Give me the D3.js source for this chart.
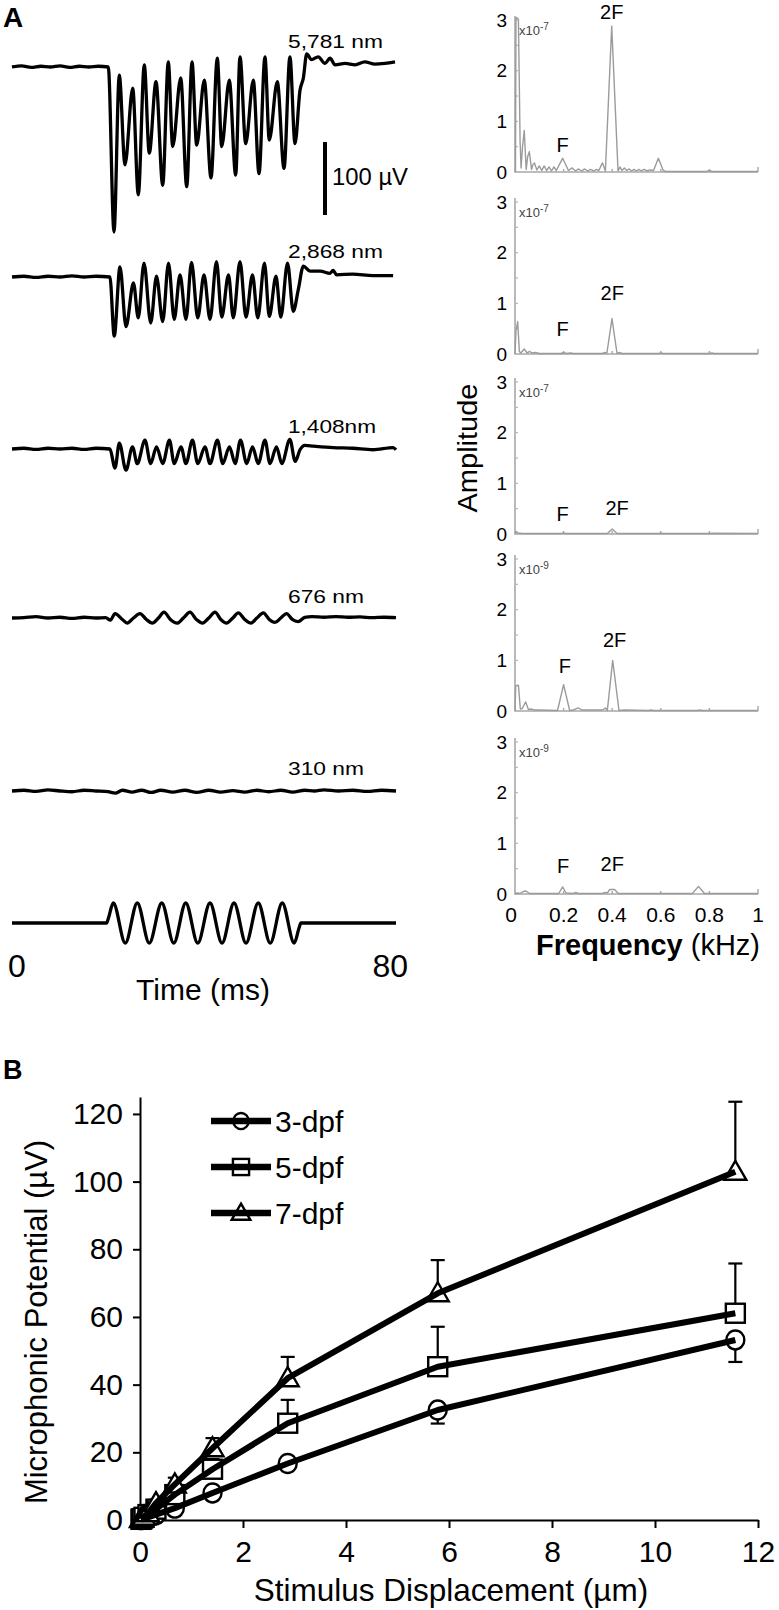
<!DOCTYPE html>
<html><head><meta charset="utf-8">
<script src="https://cdn.jsdelivr.net/npm/d3@7"></script>
<style>
body{margin:0;background:#fff}
svg{display:block}
text{font-family:"Liberation Sans",Arial,Helvetica,sans-serif;fill:#000}
</style></head><body>
<script>
// ---------------- DATA ----------------
// Panel A, left: recordings [time ms, potential µV]
const traceLabels = ["5,781 nm","2,868 nm","1,408nm","676 nm","310 nm"];
const trace5781 = [[0,0],[2,1.5],[4,-0.5],[6,1],[8,0],[10,1.5],[12,-0.5],[14,1],[16,0],[18,1],[20.06,0],
 [21.25,-226],[22.35,-11],[23.54,-134],[25.15,-29],[26.31,-175],[27.56,3],[28.6,-118],[30.0,-20],[31.4,-162],[32.56,7],
 [33.48,-109],[35.15,-15],[36.4,-164],[37.5,7],[38.48,-107],[40.06,-18],[41.46,-152],[42.77,12],[43.69,-109],[45.27,-18],
 [46.6,-148],[47.5,14],[48.69,-105],[50.27,-18],[51.46,-146],[52.7,14],[53.6,-100],[55.27,-20],[56.67,-139],[57.9,14],
 [58.96,-105],[60.0,-32],[60.7,-15],[61.4,18],[62.4,10],[63.8,14],[65.2,5],[66.25,12],[67.3,3],[69.4,5],[71.5,3],
 [73.5,7],[75.6,4],[77.7,5],[79.8,7]];
const trace2868 = [[0,0],[2.5,1],[5,-0.5],[7.5,1],[10,0],[12.5,1.5],[15,0],[17.5,1],[20.4,0],
 [21.3,-81],[22.5,14],[23.75,-68],[25.3,-8],[26.3,-56],[27.5,19],[28.9,-63],[30.1,1],[31.4,-61],[32.6,19],[33.8,-58],
 [35.0,3],[36.25,-58],[37.4,20],[38.7,-56],[40.0,3],[41.25,-58],[42.6,21],[43.7,-55],[45.1,3],[46.1,-56],[47.5,21],
 [48.75,-55],[50.1,3],[51.2,-56],[52.6,19],[53.6,-54],[55.0,1],[56.0,-55],[57.4,19],[58.6,-47],[59.65,-17],[60.7,15],
 [62.1,8],[64.2,8],[66.25,5],[66.9,9],[67.6,3],[71,4],[75.2,2],[79.4,2]];
const trace1408 = [[0,0],[2.5,1],[5,-0.5],[7.5,1],[10,0],[12.5,1],[15,-0.5],[17.5,1],[20.4,0],
 [21.46,-26],[22.36,8],[23.75,-29],[25.1,3],[26.1,-20],[27.7,12],[28.9,-20],[30.1,3],[31.4,-20],[32.8,12],[33.8,-20],
 [35.2,3],[36.25,-20],[37.6,12],[38.7,-20],[40.2,3],[41.25,-20],[42.8,12],[43.9,-20],[45.3,3],[46.5,-20],[47.6,12],
 [48.9,-20],[50.1,3],[51.3,-20],[52.7,12],[53.75,-20],[55.1,3],[56.2,-20],[57.9,13],[59.0,-17],[60.0,-1],[61.0,5],
 [62.8,4],[66.9,2],[71,1],[75.2,-1],[79.4,2],[80,-1]];
const trace676 = [[0,0],[2.5,0.5],[5,2],[7.5,0],[10,1],[12.5,-0.5],[15,1],[17.5,0],[19.5,0.5],[20.5,-3],[21.46,6],
 [23,-2],[24.0,-7],[25.3,0],[26.67,6],[28,-2],[29.2,-7],[30.5,0],[31.67,8],[33,-2],[34.4,-7],[35.7,0],[37.08,8],
 [38.4,-2],[39.7,-7],[41,0],[42.3,8],[43.5,-2],[44.7,-7],[46,0],[47.15,7],[48.5,-2],[49.8,-7],[51,0],[52.36,7],
 [53.6,-2],[54.8,-6],[56,0],[57.2,6],[58.4,-2],[59.6,-5],[61,1],[62.5,2],[65,1],[67.5,2],[70,1],[72.5,1.5],[75,0.5],
 [77.5,1],[80,0.5]];
const trace310 = [[0,0],[2.5,1],[5,-0.5],[7.5,1.5],[10,0],[12.5,-1],[15,1],[17.5,0],[20,-1],[21.5,-3],[23,1],[25,-1.5],
 [27,1],[29,-2],[31,1],[33.5,-1.5],[36,1],[38.5,-2],[41,1],[43.5,-1.5],[46,0.5],[48.5,-1.5],[51,1],[53.5,-1],[56,1],
 [58.5,-1.5],[61,1],[63,0],[65,1.5],[68,0],[71,1],[74,-0.5],[77,1],[80,0]];
const traces = [trace5781, trace2868, trace1408, trace676, trace310];
// stimulus waveform [time ms, normalised displacement]
const stimulus = [[0,0],[19.7,0],[20.1,0.25],[21.1,1],[23.6,-1],[26.1,1],[28.6,-1],[31.2,1],[33.7,-1],[36.2,1],[38.7,-1],
 [41.25,1],[43.75,-1],[46.25,1],[48.75,-1],[51.3,1],[53.8,-1],[56.3,1],[58.8,-1],[59.8,-0.25],[60.2,0],[80,0]];
const timeTickLabels = ["0","80"];
const scaleBarValue = 100; // µV

// Panel A, right: amplitude spectra [frequency kHz, amplitude]
const specExponents = ["-7","-7","-7","-9","-9"];
const spec1 = [[0,0],[0.002,0.02],[0.004,3.05],[0.014,3.02],[0.021,0.6],[0.025,0.08],[0.031,0.5],[0.038,0.82],[0.046,0.05],
 [0.052,0.3],[0.059,0.4],[0.068,0.05],[0.074,0.15],[0.08,0.18],[0.09,0.04],[0.1,0.12],[0.11,0.03],[0.12,0.12],[0.13,0.03],
 [0.14,0.1],[0.15,0.02],[0.16,0.1],[0.17,0.03],[0.196,0.27],[0.22,0.03],[0.235,0.08],[0.25,0.02],[0.26,0.06],[0.275,0.02],
 [0.285,0.06],[0.3,0.02],[0.31,0.05],[0.325,0.02],[0.335,0.05],[0.345,0.03],[0.36,0.18],[0.372,0.02],[0.398,2.88],
 [0.424,0.02],[0.432,0.1],[0.44,0.03],[0.45,0.08],[0.46,0.03],[0.47,0.06],[0.48,0.02],[0.49,0.05],[0.5,0.02],[0.51,0.05],
 [0.52,0.02],[0.53,0.05],[0.545,0.02],[0.555,0.04],[0.57,0.03],[0.59,0.27],[0.61,0.03],[0.62,0.01],[0.7,0.01],[0.79,0.01],
 [0.8,0.03],[0.81,0.01],[1,0.01]];
const spec2 = [[0,0],[0.004,0.45],[0.011,0.64],[0.018,0.05],[0.024,0.02],[0.038,0.1],[0.05,0.02],[0.06,0.05],[0.07,0.02],
 [0.085,0.03],[0.1,0.01],[0.19,0.01],[0.2,0.03],[0.21,0.01],[0.23,0.02],[0.24,0.01],[0.36,0.01],[0.37,0.03],[0.378,0.01],
 [0.399,0.7],[0.42,0.01],[0.43,0.03],[0.44,0.01],[0.59,0.01],[0.6,0.02],[0.61,0.01],[0.8,0.01],[0.81,0.02],[0.82,0.01],[1,0.01]];
const spec3 = [[0,0],[0.005,0.05],[0.012,0.02],[0.03,0.01],[0.19,0.01],[0.2,0.02],[0.21,0.01],[0.38,0.01],[0.4,0.1],
 [0.42,0.01],[0.59,0.01],[0.6,0.015],[0.61,0.01],[0.8,0.01],[0.81,0.015],[1,0.01]];
const spec4 = [[0,0],[0.003,0.5],[0.014,0.51],[0.022,0.04],[0.03,0.05],[0.044,0.18],[0.055,0.03],[0.065,0.04],[0.08,0.02],
 [0.1,0.02],[0.175,0.01],[0.2,0.52],[0.225,0.01],[0.24,0.02],[0.26,0.06],[0.275,0.02],[0.36,0.02],[0.372,0.06],[0.38,0.01],
 [0.402,1.0],[0.428,0.01],[0.45,0.02],[0.55,0.01],[0.56,0.02],[0.57,0.01],[0.75,0.01],[0.76,0.02],[0.77,0.01],[1,0.01]];
const spec5 = [[0,0],[0.01,0.02],[0.02,0.01],[0.035,0.05],[0.045,0.06],[0.06,0.01],[0.18,0.01],[0.196,0.14],[0.21,0.02],
 [0.24,0.01],[0.25,0.03],[0.26,0.01],[0.36,0.01],[0.37,0.03],[0.38,0.02],[0.39,0.09],[0.41,0.09],[0.425,0.01],[0.73,0.01],
 [0.755,0.15],[0.78,0.01],[1,0.01]];
const spectra = [spec1, spec2, spec3, spec4, spec5];
const freqTicks = [0,0.2,0.4,0.6,0.8,1];
const freqTickLabels = ["0","0.2","0.4","0.6","0.8","1"];
const ampTicks = [0,1,2,3];

// Panel B
const displacement = [0.019,0.039,0.078,0.155,0.31,0.676,1.408,2.868,5.781,11.56];
const mp3dpf  = [0.1,0.2,0.4,0.8,1.6,3.5,8,16.7,32.5,53.2];
const err3dpf = [0,0,0,0,0.3,0.5,1,1.5,4,6.5];
const mp5dpf  = [0.2,0.4,0.8,1.6,3.2,7.5,15,28.6,45.3,61.1];
const err5dpf = [0,0,0,0,0.5,1,3,6.9,11.8,14.7];
const mp7dpf  = [0.3,0.5,1,2,5,10.5,21.2,41.9,67,102.9];
const err7dpf = [0,0,0,0,1,2,3,6.3,9.8,20.7];
const seriesNames = ["3-dpf","5-dpf","7-dpf"];
const bXTicks = [0,2,4,6,8,10,12];
const bYTicks = [0,20,40,60,80,100,120];

// ---------------- DRAW ----------------
const svg = d3.select("body").append("svg").attr("width",779).attr("height",1610);

// panel letters
svg.append("text").attr("x",3).attr("y",27).attr("font-size",28).attr("font-weight","bold").text("A");
svg.append("text").attr("x",3).attr("y",1079).attr("font-size",27).attr("font-weight","bold").text("B");

// --- traces
const tx = d3.scaleLinear().domain([0,80]).range([12,396]);
const traceBase = [67,277,449,618,791];
const labelBase = [48,258,433,603,775];
const labelLen = [95,95,88,76,76];
const traceLine = d3.line().curve(d3.curveMonotoneX);
traces.forEach((tr,i)=>{
  const vy = d3.scaleLinear().domain([0,100]).range([traceBase[i], traceBase[i]-73]);
  svg.append("path").attr("d", traceLine(tr.map(d=>[tx(d[0]), vy(d[1])])))
    .attr("fill","none").attr("stroke","#000").attr("stroke-width",3.3).attr("stroke-linejoin","round");
  svg.append("text").attr("x",288).attr("y",labelBase[i]).attr("font-size",19)
    .attr("textLength",labelLen[i]).attr("lengthAdjust","spacingAndGlyphs").text(traceLabels[i]);
});
// scale bar
const vy0 = d3.scaleLinear().domain([0,100]).range([215,142]);
svg.append("line").attr("x1",325).attr("x2",325).attr("y1",vy0(0)).attr("y2",vy0(scaleBarValue))
  .attr("stroke","#000").attr("stroke-width",4);
svg.append("text").attr("x",332).attr("y",185).attr("font-size",23)
  .attr("textLength",76).attr("lengthAdjust","spacingAndGlyphs").text(scaleBarValue+" \u00B5V");
// stimulus
const sy = d3.scaleLinear().domain([-1,1]).range([943,903]);
svg.append("path").attr("d", traceLine(stimulus.map(d=>[tx(d[0]), sy(d[1])])))
  .attr("fill","none").attr("stroke","#000").attr("stroke-width",3.3);
svg.append("text").attr("x",8).attr("y",977).attr("font-size",32).text(timeTickLabels[0]);
svg.append("text").attr("x",408).attr("y",977).attr("font-size",32).attr("text-anchor","end").text(timeTickLabels[1]);
svg.append("text").attr("x",203).attr("y",1000).attr("font-size",30).attr("text-anchor","middle").text("Time (ms)");

// --- spectra
const fx = d3.scaleLinear().domain([0,1]).range([515,758]);
const specZero = [172,354,534,711,894];
const specLine = d3.line();
const grey = "#9b9b9b";
const peakLabels = [
  [[0.196,152,"F"],[0.398,19,"2F"]],
  [[0.196,336,"F"],[0.40,300,"2F"]],
  [[0.196,521,"F"],[0.42,515,"2F"]],
  [[0.205,673,"F"],[0.41,647,"2F"]],
  [[0.198,873,"F"],[0.40,871,"2F"]]
];
spectra.forEach((sp,i)=>{
  const z = specZero[i];
  const ay = d3.scaleLinear().domain([0,3]).range([z, z-152]);
  const g = svg.append("g");
  g.append("path").attr("d",`M${fx(0)},${ay(3.08)}V${z}H${fx(1)}`)
    .attr("fill","none").attr("stroke","#a8a8a8").attr("stroke-width",1.6);
  freqTicks.slice(1).forEach(f=>{
    g.append("line").attr("x1",fx(f)).attr("x2",fx(f)).attr("y1",z).attr("y2",z-(f===1?5:3))
      .attr("stroke","#a8a8a8").attr("stroke-width",1.4);
  });
  d3.range(0.5,3.01,0.5).forEach(a=>{
    g.append("line").attr("x1",fx(0)).attr("x2",fx(0)+3).attr("y1",ay(a)).attr("y2",ay(a))
      .attr("stroke","#b5b5b5").attr("stroke-width",1.2);
  });
  ampTicks.forEach(a=>{
    g.append("text").attr("x",507).attr("y",ay(a)).attr("dy","0.35em").attr("font-size",19)
      .attr("text-anchor","end").text(a);
  });
  g.append("path").attr("d", specLine(sp.map(d=>[fx(d[0]), ay(Math.min(d[1],3.08))])))
    .attr("fill","none").attr("stroke",grey).attr("stroke-width",1.4).attr("stroke-linejoin","round");
  const ex = g.append("text").attr("x",519).attr("y",ay(3)+15).attr("font-size",13).style("fill","#444");
  ex.append("tspan").text("x10");
  ex.append("tspan").attr("dy",-5).attr("font-size",10).text(specExponents[i]);
  peakLabels[i].forEach(p=>{
    g.append("text").attr("x",fx(p[0])).attr("y",p[1]).attr("font-size",20).attr("text-anchor","middle").text(p[2]);
  });
  if(i===spectra.length-1){
    freqTicks.forEach((f,k)=>{
      g.append("text").attr("x",fx(f)+(k===0?-4:0)).attr("y",922).attr("font-size",21)
        .attr("text-anchor","middle").text(freqTickLabels[k]);
    });
  }
});
const fl = svg.append("text").attr("x",536).attr("y",955).attr("font-size",29);
fl.append("tspan").attr("font-weight","bold").text("Frequency");
fl.append("tspan").text(" (kHz)");
svg.append("text").attr("transform","translate(477,448) rotate(-90)").attr("font-size",28)
  .attr("text-anchor","middle").attr("textLength",129).attr("lengthAdjust","spacingAndGlyphs").text("Amplitude");

// --- Panel B
const bx = d3.scaleLinear().domain([0,12]).range([140,758]);
const by = d3.scaleLinear().domain([0,125]).range([1520,1097]);
const xAx = svg.append("g").attr("transform","translate(0,1520)")
  .call(d3.axisBottom(bx).tickValues(bXTicks).tickSize(8).tickSizeOuter(0).tickPadding(13).tickFormat(d3.format("d")));
const yAx = svg.append("g").attr("transform","translate(140,0)")
  .call(d3.axisLeft(by).tickValues(bYTicks).tickSize(7).tickSizeOuter(0).tickPadding(10).tickFormat(d3.format("d")));
[xAx,yAx].forEach(a=>{
  a.selectAll("path,line").attr("stroke","#000").attr("stroke-width",2);
  a.selectAll("text").attr("font-size",30).attr("font-family","'Liberation Sans',Arial,sans-serif").attr("fill","#000");
});
svg.append("text").attr("x",451).attr("y",1601).attr("font-size",31.5).attr("text-anchor","middle").text("Stimulus Displacement (\u00B5m)");
svg.append("text").attr("transform","translate(47,1322) rotate(-90)").attr("font-size",31)
  .attr("text-anchor","middle").text("Microphonic Potential (\u00B5V)");

const series = [
  {name:seriesNames[0], vals:mp3dpf, err:err3dpf, shape:"circle"},
  {name:seriesNames[1], vals:mp5dpf, err:err5dpf, shape:"square"},
  {name:seriesNames[2], vals:mp7dpf, err:err7dpf, shape:"triangle"}
];
const errSide = [-1, 1, 1];
function drawMarker(g, shape, x, y, s){
  if(shape==="circle"){
    g.append("ellipse").attr("cx",x).attr("cy",y).attr("rx",9*s).attr("ry",9.5*s);
  } else if(shape==="square"){
    g.append("rect").attr("x",x-9.5*s).attr("y",y-9.5*s).attr("width",19*s).attr("height",19*s);
  } else {
    g.append("path").attr("d",`M${x},${y-11*s}L${x+11*s},${y+8*s}L${x-11*s},${y+8*s}Z`);
  }
}
const errG = svg.append("g").attr("stroke","#000").attr("stroke-width",2.2);
const mkG = svg.append("g").attr("fill","#fff").attr("stroke","#000").attr("stroke-width",2.4);
const lnG = svg.append("g");
const bLine = d3.line();
series.forEach((s,si)=>{
  s.vals.forEach((v,k)=>{
    const e = s.err[k];
    if(e>0){
      const x = bx(displacement[k]), y0 = by(v), y1 = by(v+errSide[si]*e);
      errG.append("line").attr("x1",x).attr("x2",x).attr("y1",y0).attr("y2",y1);
      errG.append("line").attr("x1",x-7).attr("x2",x+7).attr("y1",y1).attr("y2",y1);
    }
  });
});
series.forEach(s=>{
  s.vals.forEach((v,k)=>drawMarker(mkG, s.shape, bx(displacement[k]), by(v), 1));
});
series.forEach(s=>{
  lnG.append("path").attr("d", bLine(s.vals.map((v,k)=>[bx(displacement[k]), by(v)])))
    .attr("fill","none").attr("stroke","#000").attr("stroke-width",6).attr("stroke-linejoin","round");
});
// legend
const legY = [1121,1167,1213];
series.forEach((s,i)=>{
  const g = svg.append("g");
  const mg = g.append("g").attr("fill","#fff").attr("stroke","#000").attr("stroke-width",2.4);
  drawMarker(mg, s.shape, 241, legY[i], 0.85);
  g.append("line").attr("x1",211).attr("x2",271).attr("y1",legY[i]).attr("y2",legY[i])
    .attr("stroke","#000").attr("stroke-width",6.5);
  g.append("text").attr("x",275).attr("y",legY[i]).attr("dy","0.36em").attr("font-size",30).text(s.name);
});
</script>
</body></html>
